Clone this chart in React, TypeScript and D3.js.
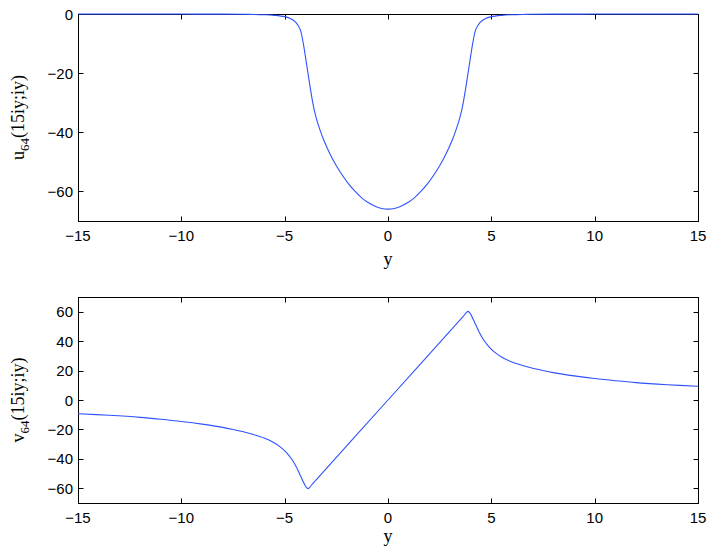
import React from "react";
import * as d3 from "d3";

const xTicks = [-15, -10, -5, 0, 5, 10, 15];
const uTicks = [-60, -40, -20, 0];
const vTicks = [-60, -40, -20, 0, 20, 40, 60];

const uX = [-15, -12, -10, -8, -7, -6.5, -6, -5.5, -5, -4.7, -4.45, -4.25, -4.1, -3.95, -3.85, -3.75, -3.65, -3.55, -3.45, -3.3, -3.1, -2.8, -2.5, -2.2, -1.9, -1.6, -1.3, -1.0, -0.6, -0.3, 0,
  0.3, 0.6, 1.0, 1.3, 1.6, 1.9, 2.2, 2.5, 2.8, 3.1, 3.3, 3.45, 3.55, 3.65, 3.75, 3.85, 3.95, 4.1, 4.25, 4.45, 4.7, 5, 5.5, 6, 6.5, 7, 8, 10, 12, 15];
const uY = [0, 0, -0.02, -0.05, -0.1, -0.15, -0.25, -0.45, -0.9, -1.6, -2.9, -5.2, -9.9, -16.5, -21, -25.5, -29.6, -33, -35.7, -39, -42.8, -47.4, -51.3, -54.6, -57.5, -59.9, -62, -63.6, -65.1, -65.8, -66,
  -65.8, -65.1, -63.6, -62, -59.9, -57.5, -54.6, -51.3, -47.4, -42.8, -39, -35.7, -33, -29.6, -25.5, -21, -16.5, -9.9, -5.2, -2.9, -1.6, -0.9, -0.45, -0.25, -0.15, -0.1, -0.05, -0.02, 0, 0];

const vX = [-15, -13.5, -12, -11, -10, -9, -8, -7.5, -7, -6.5, -6, -5.6, -5.2, -4.9, -4.6, -4.4, -4.2, -4.05, -3.95, -3.87, -3.78, -3.65, 0,
  3.65, 3.78, 3.87, 3.95, 4.05, 4.2, 4.4, 4.6, 4.9, 5.2, 5.6, 6, 6.5, 7, 7.5, 8, 9, 10, 11, 12, 13.5, 15];
const vY = [-9.3, -10.4, -11.8, -13.1, -14.6, -16.4, -18.6, -20, -21.6, -23.5, -25.8, -28.4, -32, -36, -41.5, -46.5, -52.5, -57, -59.4, -60.2, -59.2, -57, 0,
  57, 59.2, 60.2, 59.4, 57, 52.5, 46.5, 41.5, 36, 32, 28.4, 25.8, 23.5, 21.6, 20, 18.6, 16.4, 14.6, 13.1, 11.8, 10.4, 9.3];

const W = 713;
const H = 549;
const left = 78;
const right = 698;
const tickFont = "Liberation Sans, Arial, Helvetica, sans-serif";
const serif = "Liberation Serif, Times New Roman, serif";
const blue = "#2f52ff";

type PanelProps = {
  top: number;
  bottom: number;
  domain: [number, number];
  yTicks: number[];
  xs: number[];
  ys: number[];
  letter: string;
  labelY: number;
};

function Panel({ top, bottom, domain, yTicks, xs, ys, letter, labelY }: PanelProps) {
  const x = d3.scaleLinear().domain([-15, 15]).range([left, right]);
  const y = d3.scaleLinear().domain(domain).range([bottom, top]);
  const line = d3
    .line<number>()
    .x((_, i) => x(xs[i]))
    .y((d) => y(d))
    .curve(d3.curveCatmullRom.alpha(0.5));
  const path = line(ys) || "";
  const tl = 5;
  const midY = (top + bottom) / 2;
  return (
    <g>
      <rect x={left + 0.5} y={top + 0.5} width={right - left} height={bottom - top} fill="none" stroke="#000" strokeWidth={1} />
      {xTicks.map((t) => (
        <g key={"x" + t}>
          <line x1={Math.round(x(t)) + 0.5} x2={Math.round(x(t)) + 0.5} y1={bottom + 0.5} y2={bottom + 0.5 - tl} stroke="#000" />
          <line x1={Math.round(x(t)) + 0.5} x2={Math.round(x(t)) + 0.5} y1={top + 0.5} y2={top + 0.5 + tl} stroke="#000" />
          <text x={x(t)} y={bottom + 20} textAnchor="middle" fontFamily={tickFont} fontSize={15} fill="#000">
            {t < 0 ? "\u2212" + Math.abs(t) : String(t)}
          </text>
        </g>
      ))}
      {yTicks.map((t) => (
        <g key={"y" + t}>
          <line x1={left + 0.5} x2={left + 0.5 + tl} y1={Math.round(y(t)) + 0.5} y2={Math.round(y(t)) + 0.5} stroke="#000" />
          <line x1={right + 0.5} x2={right + 0.5 - tl} y1={Math.round(y(t)) + 0.5} y2={Math.round(y(t)) + 0.5} stroke="#000" />
          <text x={left - 5} y={y(t) + 5.5} textAnchor="end" fontFamily={tickFont} fontSize={15} fill="#000">
            {t < 0 ? "\u2212" + Math.abs(t) : String(t)}
          </text>
        </g>
      ))}
      <path d={path} fill="none" stroke={blue} strokeWidth={1.1} />
      <text x={x(0)} y={labelY} textAnchor="middle" fontFamily={serif} fontSize={18} fill="#000">y</text>
      <text transform={`translate(24,${midY}) rotate(-90)`} textAnchor="middle" fontFamily={serif} fontSize={18} fill="#000">
        {letter}
        <tspan fontSize={13} dy={5}>64</tspan>
        <tspan dy={-5}>(15iy;iy)</tspan>
      </text>
    </g>
  );
}

export default function App() {
  return (
    <svg width={W} height={H} style={{ position: "absolute", left: 0, top: 0, background: "#fff" }}>
      <rect width={W} height={H} fill="#fff" />
      <Panel top={14} bottom={221} domain={[-70, 0]} yTicks={uTicks} xs={uX} ys={uY} letter="u" labelY={265} />
      <Panel top={297} bottom={503} domain={[-70, 70]} yTicks={vTicks} xs={vX} ys={vY} letter="v" labelY={542} />
    </svg>
  );
}
